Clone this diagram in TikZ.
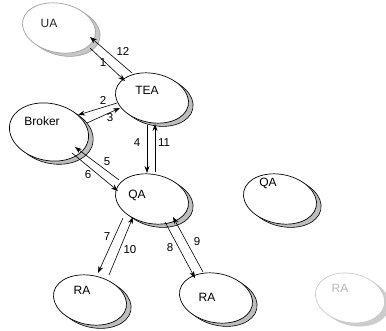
\documentclass[tikz,border=0pt]{standalone}
\usepackage{fontspec}
\setmainfont{Liberation Sans}
\usetikzlibrary{arrows.meta,shapes.geometric,shadows,calc}
\definecolor{shadowgray}{gray}{0.74}
\begin{document}
\begin{tikzpicture}[x=1pt,y=-1pt,
  ent/.style={ellipse, draw=black, line width=0.7pt, fill=white,
    minimum width=74pt, minimum height=49pt, inner sep=0pt, rotate=-12,
    copy shadow={shadow xshift=4.6pt, shadow yshift=-3.2pt, fill=shadowgray, draw=black, line width=0.6pt}},
  entfaint/.style={ellipse, draw=gray!75, line width=0.7pt, fill=white,
    minimum width=74pt, minimum height=49pt, inner sep=0pt, rotate=-12,
    copy shadow={shadow xshift=4.6pt, shadow yshift=-3.2pt, fill=shadowgray!85, draw=gray!75, line width=0.6pt}},
  entghost/.style={ellipse, draw=gray!45, line width=0.6pt, fill=white,
    minimum width=72pt, minimum height=49pt, inner sep=0pt, rotate=-12,
    copy shadow={shadow xshift=4.6pt, shadow yshift=-3.2pt, fill=gray!40, draw=gray!40, line width=0.5pt}},
  txt/.style={inner sep=0pt, font=\fontsize{12}{14}\selectfont},
  num/.style={inner sep=0pt, font=\fontsize{11.5}{13}\selectfont},
  arr/.style={draw=black, line width=0.6pt, -{Stealth[length=7pt,width=5pt]}}
]
\useasboundingbox (0,0) rectangle (386,331);

% entities
\node[entfaint] (ua) at (59,28) {};
\node[ent] (tea) at (152,98) {};
\node[ent, minimum width=80pt, minimum height=57pt] (broker) at (49,132) {};
\node[ent] (qa) at (152,199) {};
\node[ent] (raL) at (90,300) {};
\node[ent] (raR) at (216,298) {};
\node[ent] (qa2) at (280,199) {};
\node[entghost, minimum width=70pt] (ra2) at (350,298) {};

% entity texts
\node[txt, text=black!85] (tua) at (49,23) {UA};
\node[txt] (ttea) at (147,90) {TEA};
\node[txt] (tbroker) at (42,121) {Broker};
\node[txt] (tqa) at (137,195) {QA};
\node[txt] (traL) at (82,290) {RA};
\node[txt] (traR) at (207,297) {RA};
\node[txt] (tqa2) at (268,183) {QA};
\node[txt, text=gray!55] (tra2) at (340,288) {RA};

% connectors
\draw[arr] ($(ua)+(31,20)$) -- ($(tea)+(-27,-17)$);
\draw[arr] ($(tea)+(-20,-25)$) -- ($(ua)+(31,9)$);
\draw[arr] ($(tea)+(-35,5)$) -- ($(broker)+(29,-17)$);
\draw[arr] ($(broker)+(38,-9)$) -- ($(tea)+(-32,10)$);
\draw[arr] ($(tea)+(-5,27)$) -- ($(qa)+(-5,-26)$);
\draw[arr] ($(qa)+(3,-27)$) -- ($(tea)+(3,26)$);
\draw[arr] ($(qa)+(-33,-19)$) -- ($(broker)+(26,15)$);
\draw[arr] ($(broker)+(23,21)$) -- ($(qa)+(-34,-8)$);
\draw[arr] ($(qa)+(-29,19)$) -- ($(raL)+(8,-27)$);
\draw[arr] ($(raL)+(19,-25)$) -- ($(qa)+(-19,18)$);
\draw[arr] ($(qa)+(13,23)$) -- ($(raR)+(-21,-20)$);
\draw[arr] ($(raR)+(-13,-26)$) -- ($(qa)+(21,18)$);

% connector labels
\node[num] (n1) at (103,63) {1};
\node[num] (n12) at (123,51) {12};
\node[num] (n2) at (103,100) {2};
\node[num] (n3) at (110,118) {3};
\node[num] (n4) at (137,143) {4};
\node[num] (n11) at (164,143) {11};
\node[num] (n5) at (107,162) {5};
\node[num] (n6) at (88,175) {6};
\node[num] (n7) at (107,237) {7};
\node[num] (n10) at (130,250) {10};
\node[num] (n8) at (170,248) {8};
\node[num] (n9) at (197,242) {9};
\end{tikzpicture}
\end{document}
